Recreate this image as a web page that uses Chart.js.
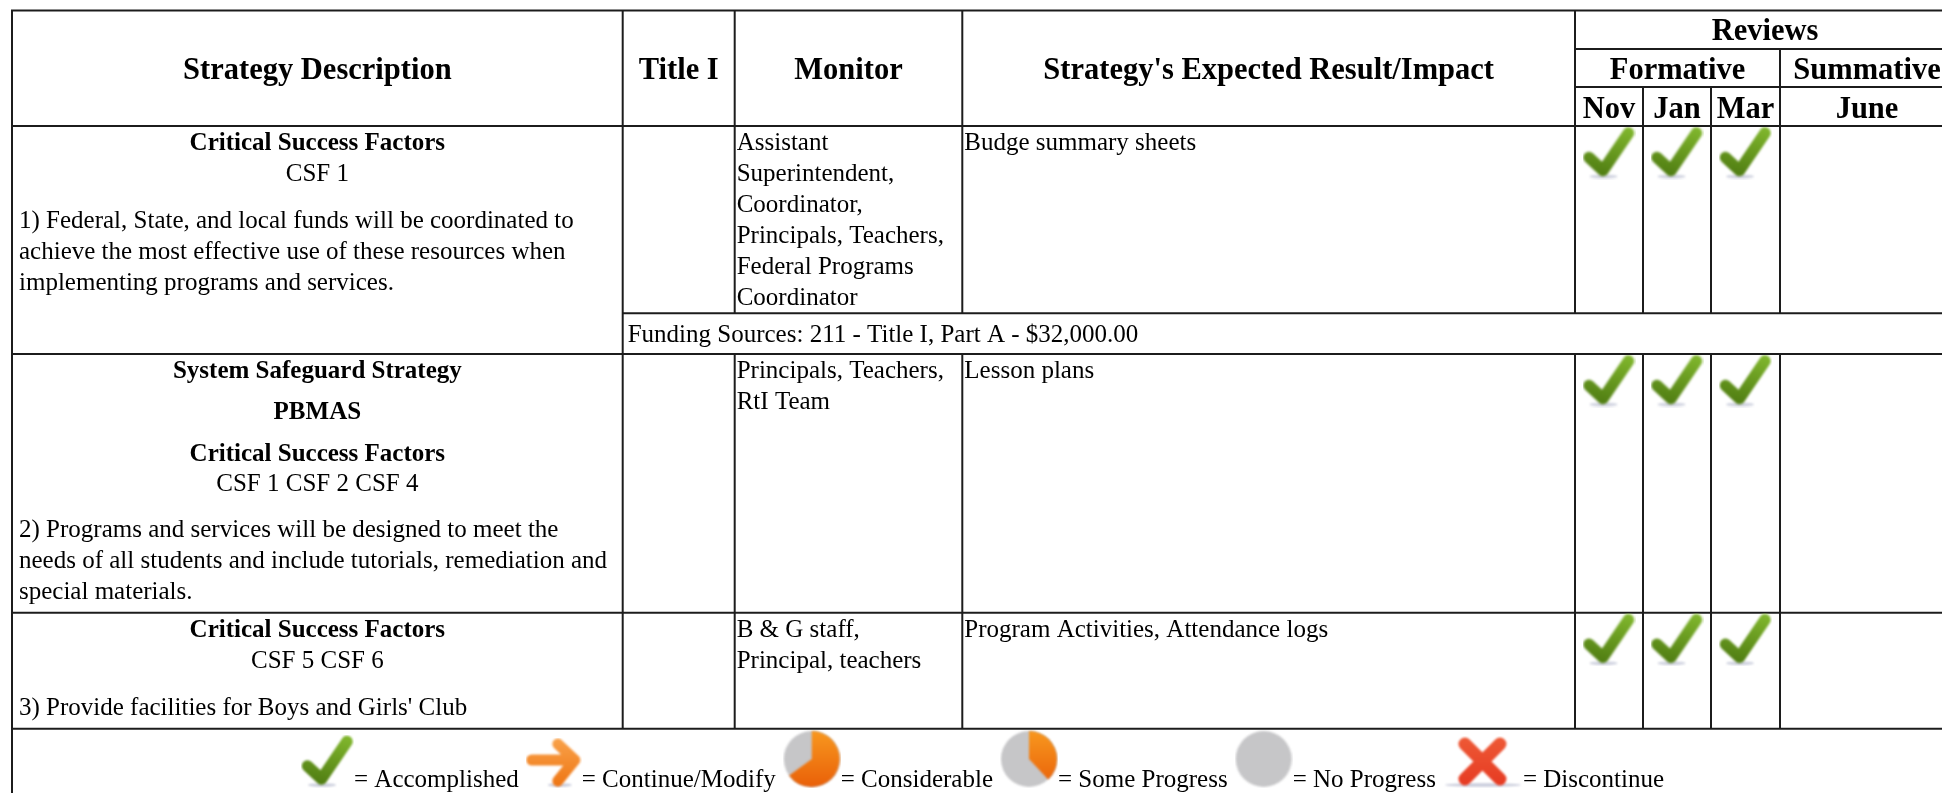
<!DOCTYPE html>
<html>
<head>
<meta charset="utf-8">
<title>Strategy reviews</title>
<script src="https://cdn.jsdelivr.net/npm/chart.js@4"></script>
<style>
  html, body { margin: 0; padding: 0; background: #fff; overflow: hidden; }
  canvas { display: block; }
</style>
</head>
<body>
<canvas id="chart" width="1942" height="793"></canvas>
<script>
// table content
const headerCols = ['Strategy Description', 'Title I', 'Monitor', "Strategy's Expected Result/Impact"];
const reviewMonths = ['Nov', 'Jan', 'Mar', 'June'];
const monitors = [
  ['Assistant', 'Superintendent,', 'Coordinator,', 'Principals, Teachers,', 'Federal Programs', 'Coordinator'],
  ['Principals, Teachers,', 'RtI Team'],
  ['B & G staff,', 'Principal, teachers']
];
const results = ['Budge summary sheets', 'Lesson plans', 'Program Activities, Attendance logs'];
const funding = 'Funding Sources: 211 - Title I, Part A - $32,000.00';

// review status per strategy row, null means the cell is empty
const novStatus = ['Accomplished', 'Accomplished', 'Accomplished'];
const janStatus = ['Accomplished', 'Accomplished', 'Accomplished'];
const marStatus = ['Accomplished', 'Accomplished', 'Accomplished'];
const juneStatus = [null, null, null];

const legendLabels = ['Accomplished', 'Continue/Modify', 'Considerable', 'Some Progress', 'No Progress', 'Discontinue'];

// page layout, in px
const W = 1942, H = 793;
const colX = [12, 622.7, 734.7, 962.3, 1575, 1643, 1711, 1780];
const rowY = { top: 10.5, reviews: 49, formative: 87, head: 126, fund: 313.3, r1: 354, r2: 612.7, r3: 728.7 };
const rowTops = [rowY.head, rowY.r1, rowY.r2];
const BODY = '25px "Liberation Serif"';
const BOLD = 'bold 25px "Liberation Serif"';
const HEAD = 'bold 30.5px "Liberation Serif"';

function icon(w, h, paint) {
  const c = document.createElement('canvas');
  c.width = w; c.height = h;
  const g = c.getContext('2d');
  g.filter = 'blur(0.8px)';
  paint(g, w, h);
  return c;
}

function baseShadow(g, x, y, rx) {
  g.fillStyle = 'rgba(150,155,185,0.5)';
  g.beginPath();
  g.ellipse(x, y, rx, 1.8, 0, 0, Math.PI * 2);
  g.fill();
}

function pie(share) {
  return icon(58, 58, (g) => {
    g.fillStyle = '#c6c6c8';
    g.beginPath();
    g.arc(29, 29, 28, 0, Math.PI * 2);
    g.fill();
    if (share > 0) {
      const grad = g.createLinearGradient(0, 0, 0, 58);
      grad.addColorStop(0, '#f8991f');
      grad.addColorStop(1, '#e95f08');
      g.fillStyle = grad;
      g.beginPath();
      g.moveTo(29, 29);
      g.arc(29, 29, 28, -Math.PI / 2, -Math.PI / 2 + share * Math.PI * 2);
      g.closePath();
      g.fill();
    }
  });
}

const icons = {
  Accomplished: icon(53, 53, (g) => {
    baseShadow(g, 21, 50, 14);
    const grad = g.createLinearGradient(32, 0, 20, 50);
    grad.addColorStop(0, '#7fb52c');
    grad.addColorStop(1, '#4f7c12');
    g.strokeStyle = grad;
    g.lineWidth = 11.5;
    g.lineCap = 'round';
    g.lineJoin = 'round';
    g.beginPath();
    g.moveTo(6.5, 31);
    g.lineTo(20.5, 44);
    g.lineTo(46, 6.5);
    g.stroke();
  }),
  'Continue/Modify': icon(56, 50, (g) => {
    baseShadow(g, 34, 47, 12);
    const grad = g.createLinearGradient(0, 0, 0, 50);
    grad.addColorStop(0, '#f9a24a');
    grad.addColorStop(1, '#ee7412');
    g.strokeStyle = grad;
    g.lineWidth = 11;
    g.lineCap = 'round';
    g.lineJoin = 'round';
    g.beginPath();
    g.moveTo(6, 22);
    g.lineTo(49, 22);
    g.moveTo(32, 6);
    g.lineTo(49, 22);
    g.lineTo(32, 43);
    g.stroke();
  }),
  Considerable: pie(0.65),
  'Some Progress': pie(0.38),
  'No Progress': pie(0),
  Discontinue: icon(80, 52, (g) => {
    baseShadow(g, 40, 49, 38);
    const grad = g.createLinearGradient(0, 0, 0, 50);
    grad.addColorStop(0, '#ee5a36');
    grad.addColorStop(1, '#e63a22');
    g.strokeStyle = grad;
    g.lineWidth = 13;
    g.lineCap = 'round';
    g.beginPath();
    g.moveTo(22, 8);
    g.lineTo(57, 43);
    g.moveTo(57, 8);
    g.lineTo(22, 43);
    g.stroke();
  })
};

const colCenter = (i) => (colX[i] + colX[i + 1]) / 2;

// one point per filled review cell
function reviewPoints() {
  const pts = [];
  const style = [];
  [novStatus, janStatus, marStatus, juneStatus].forEach((col, c) => {
    col.forEach((status, r) => {
      if (!status) return;
      pts.push({ x: colCenter(4 + c), y: rowTops[r] + 27 });
      style.push(icons[status]);
    });
  });
  return { pts, style };
}

// legend is laid out left to right like inline images and text
const measure = document.createElement('canvas').getContext('2d');
measure.font = BODY;
const legendItems = [];
let flowX = 301;
legendLabels.forEach((label) => {
  const img = icons[label];
  const text = '= ' + label;
  legendItems.push({ iconX: flowX + img.width / 2, iconY: 788 - img.height / 2, textX: flowX + img.width, text });
  flowX += img.width + measure.measureText(text).width + 7;
});

const reviews = reviewPoints();

const tablePlugin = {
  id: 'table',
  beforeDatasetsDraw(chart) {
    const { ctx, scales: { x, y } } = chart;
    const px = (v) => x.getPixelForValue(v);
    const py = (v) => y.getPixelForValue(v);

    ctx.save();
    ctx.filter = 'blur(0.35px)'; // the source is a slightly soft screenshot
    ctx.strokeStyle = '#1c1c1c';
    ctx.lineWidth = 2;
    const hLine = (yv, x0, x1) => { ctx.beginPath(); ctx.moveTo(px(x0), py(yv)); ctx.lineTo(px(x1), py(yv)); ctx.stroke(); };
    const vLine = (xv, y0, y1) => { ctx.beginPath(); ctx.moveTo(px(xv), py(y0)); ctx.lineTo(px(xv), py(y1)); ctx.stroke(); };

    hLine(rowY.top, colX[0] - 1, W);
    hLine(rowY.reviews, colX[4], W);
    hLine(rowY.formative, colX[4], W);
    hLine(rowY.head, colX[0], W);
    hLine(rowY.fund, colX[1], W);
    hLine(rowY.r1, colX[0], W);
    hLine(rowY.r2, colX[0], W);
    hLine(rowY.r3, colX[0], W);

    vLine(colX[0], rowY.top, H);
    vLine(colX[1], rowY.top, rowY.r3);
    [2, 3, 4].forEach((i) => {
      vLine(colX[i], rowY.top, rowY.fund);
      vLine(colX[i], rowY.r1, rowY.r3);
    });
    [5, 6].forEach((i) => {
      vLine(colX[i], rowY.formative, rowY.fund);
      vLine(colX[i], rowY.r1, rowY.r3);
    });
    vLine(colX[7], rowY.reviews, rowY.fund);
    vLine(colX[7], rowY.r1, rowY.r3);

    ctx.fillStyle = '#000';
    ctx.textBaseline = 'alphabetic';
    const put = (text, xv, yv, font, align) => {
      ctx.font = font;
      ctx.textAlign = align || 'left';
      ctx.fillText(text, px(xv), py(yv));
    };
    const mid = colCenter(0);

    // header
    headerCols.forEach((h, i) => put(h, colCenter(i), 79, HEAD, 'center'));
    put('Reviews', 1765, 40, HEAD, 'center');
    put('Formative', (colX[4] + colX[7]) / 2, 79, HEAD, 'center');
    put('Summative', 1867, 79, HEAD, 'center');
    reviewMonths.slice(0, 3).forEach((m, i) => put(m, colCenter(4 + i), 118, HEAD, 'center'));
    put(reviewMonths[3], 1867, 118, HEAD, 'center');

    // strategy description column
    put('Critical Success Factors', mid, 150, BOLD, 'center');
    put('CSF 1', mid, 181, BODY, 'center');
    put('1) Federal, State, and local funds will be coordinated to', 19, 228, BODY);
    put('achieve the most effective use of these resources when', 19, 259, BODY);
    put('implementing programs and services.', 19, 290, BODY);

    put('System Safeguard Strategy', mid, 378, BOLD, 'center');
    put('PBMAS', mid, 419, BOLD, 'center');
    put('Critical Success Factors', mid, 461, BOLD, 'center');
    put('CSF 1 CSF 2 CSF 4', mid, 491, BODY, 'center');
    put('2) Programs and services will be designed to meet the', 19, 537, BODY);
    put('needs of all students and include tutorials, remediation and', 19, 568, BODY);
    put('special materials.', 19, 599, BODY);

    put('Critical Success Factors', mid, 637, BOLD, 'center');
    put('CSF 5 CSF 6', mid, 668, BODY, 'center');
    put("3) Provide facilities for Boys and Girls' Club", 19, 715, BODY);

    // monitor and result columns
    monitors.forEach((lines, r) => {
      lines.forEach((line, i) => put(line, colX[2] + 2, rowTops[r] + 24 + i * 31, BODY));
      put(results[r], colX[3] + 2, rowTops[r] + 24, BODY);
    });
    put(funding, colX[1] + 5, 342, BODY);

    // legend text
    legendItems.forEach((item) => put(item.text, item.textX, 787, BODY));
    ctx.restore();
  }
};

new Chart(document.getElementById('chart'), {
  type: 'scatter',
  data: {
    datasets: [
      {
        label: 'Reviews',
        data: reviews.pts,
        pointStyle: reviews.style,
        pointRadius: 26,
        pointHoverRadius: 26
      },
      {
        label: 'Key',
        data: legendItems.map((item) => ({ x: item.iconX, y: item.iconY })),
        pointStyle: legendItems.map((_, i) => icons[legendLabels[i]]),
        pointRadius: 26,
        pointHoverRadius: 26
      }
    ]
  },
  options: {
    responsive: false,
    animation: false,
    layout: { padding: 0, autoPadding: false },
    plugins: { legend: { display: false }, tooltip: { enabled: false }, title: { display: false } },
    scales: {
      x: { type: 'linear', min: 0, max: W, display: false },
      y: { type: 'linear', min: 0, max: H, reverse: true, display: false }
    }
  },
  plugins: [tablePlugin]
});
</script>
</body>
</html>
